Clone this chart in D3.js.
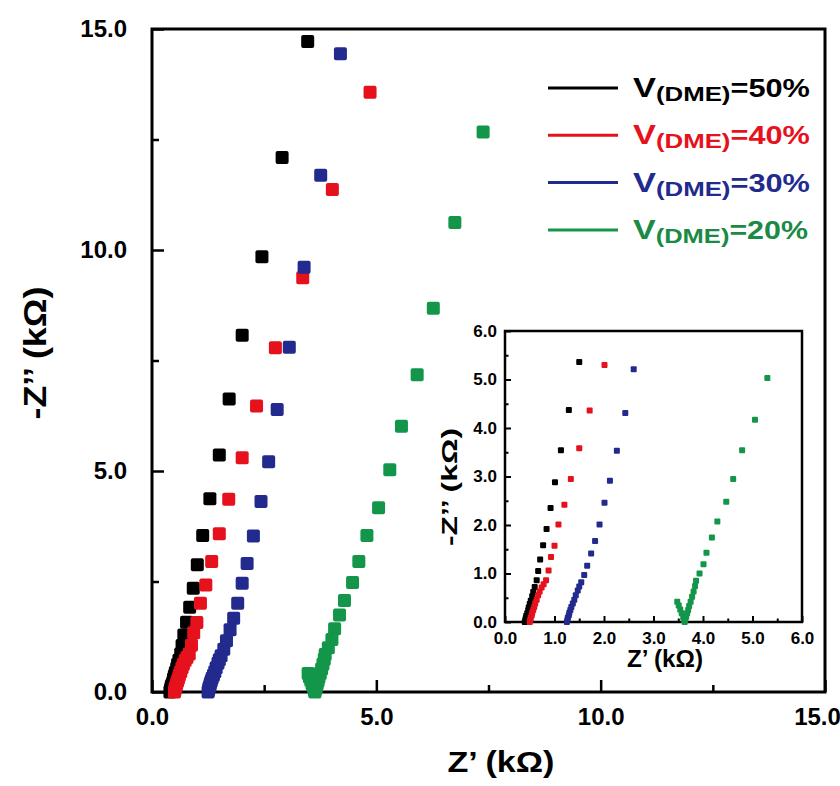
<!DOCTYPE html>
<html><head><meta charset="utf-8">
<script src="https://cdn.jsdelivr.net/npm/d3@7"></script>
<style>
body{margin:0;background:#fff}
text{font-family:"Liberation Sans",Arial,sans-serif;font-weight:bold}
</style>
</head><body>
<svg id="c" width="840" height="786"></svg>
<script>
// ---------------- data (kΩ) ----------------
const seriesPct = ["50%","40%","30%","20%"];
const seriesColors = ["#000000","#e5121d","#232a8e","#14964a"];
const textColors   = ["#000000","#e5121d","#232a8e","#1a8a45"];

const zr50 = [0.40,0.41,0.42,0.43,0.45,0.47,0.48,0.50,0.52,0.55,0.57,0.60,0.64,0.67,0.71,0.77,0.84,0.92,1.01,1.13,1.29,1.50,1.72,2.01,2.45,2.90,3.47];
const zi50 = [0.00,0.04,0.08,0.13,0.18,0.24,0.30,0.37,0.44,0.53,0.62,0.72,0.86,1.05,1.29,1.58,1.92,2.35,2.88,3.54,4.37,5.36,6.63,8.07,9.85,12.09,14.72];

const zr40 = [0.50,0.51,0.52,0.54,0.55,0.57,0.59,0.61,0.64,0.67,0.70,0.74,0.78,0.83,0.88,0.93,1.00,1.08,1.20,1.33,1.50,1.71,2.01,2.33,2.75,3.36,4.02,4.86];
const zi40 = [0.00,0.04,0.09,0.14,0.19,0.25,0.31,0.38,0.46,0.55,0.63,0.71,0.78,0.86,1.06,1.34,1.57,2.01,2.42,2.95,3.58,4.36,5.30,6.47,7.79,9.37,11.37,13.57];

const zr30 = [1.25,1.26,1.27,1.29,1.30,1.32,1.34,1.37,1.40,1.43,1.47,1.50,1.54,1.60,1.66,1.74,1.82,1.91,2.01,2.12,2.26,2.43,2.60,2.79,3.06,3.39,3.76,4.20];
const zi30 = [0.00,0.04,0.09,0.14,0.19,0.25,0.31,0.38,0.46,0.55,0.65,0.73,0.82,0.97,1.16,1.41,1.67,2.01,2.46,2.91,3.53,4.31,5.21,6.39,7.80,9.61,11.69,14.44];

const zr20 = [3.48,3.51,3.54,3.57,3.60,3.62,3.63,3.64,3.66,3.68,3.70,3.72,3.75,3.78,3.81,3.84,3.86,3.93,4.01,4.07,4.18,4.29,4.47,4.61,4.79,5.05,5.30,5.56,5.91,6.27,6.75,7.38];
const zi20 = [0.42,0.34,0.26,0.18,0.10,0.04,0.00,0.05,0.11,0.18,0.25,0.33,0.42,0.52,0.63,0.74,0.85,1.00,1.19,1.43,1.74,2.07,2.48,2.95,3.54,4.17,5.03,6.01,7.18,8.68,10.62,12.67];

const mainTicks = [0,5,10,15];
const mainTickLabels = ["0.0","5.0","10.0","15.0"];
const mainMinor = [2.5,7.5,12.5];
const insetTicks = [0,1,2,3,4,5,6];
const insetTickLabels = ["0.0","1.0","2.0","3.0","4.0","5.0","6.0"];
const insetMinor = [0.5,1.5,2.5,3.5,4.5,5.5];

const allZr = [zr50,zr40,zr30,zr20];
const allZi = [zi50,zi40,zi30,zi20];
const series = allZr.map((xs,k)=>xs.map((v,i)=>({x:v,y:allZi[k][i],k})));

// ---------------- drawing ----------------
const svg = d3.select("#c");

function fitText(g, target){
  const t = g.select("text");
  const w = t.node().getBBox().width;
  t.attr("transform", `scale(${target/w},1)`);
}

// main plot
const x = d3.scaleLinear([0,15],[152,825]);
const y = d3.scaleLinear([0,15],[692,29]);

const ax = svg.append("g").attr("transform",`translate(0,${y(0)})`)
  .call(d3.axisBottom(x).tickValues(mainTicks).tickSize(-12).tickPadding(16)
        .tickFormat((d,i)=>mainTickLabels[i]));
const axm = svg.append("g").attr("transform",`translate(0,${y(0)})`)
  .call(d3.axisBottom(x).tickValues(mainMinor).tickSize(-7).tickFormat(""));
const ay = svg.append("g").attr("transform",`translate(${x(0)},0)`)
  .call(d3.axisLeft(y).tickValues(mainTicks).tickSize(-12).tickPadding(25)
        .tickFormat((d,i)=>mainTickLabels[i]));
const aym = svg.append("g").attr("transform",`translate(${x(0)},0)`)
  .call(d3.axisLeft(y).tickValues(mainMinor).tickSize(-7).tickFormat(""));
[ax,axm,ay,aym].forEach(g=>{
  g.select(".domain").remove();
  g.selectAll("line").attr("stroke","#000").attr("stroke-width",2.5);
  g.selectAll("text").attr("font-size",24).attr("fill","#000")
   .attr("font-family",'"Liberation Sans",Arial,sans-serif').attr("font-weight","bold");
});
// keep the last x label inside the picture, as in the reference
ax.selectAll(".tick text").filter(d=>d===15).attr("dx",-8);

svg.append("rect").attr("x",x(0)).attr("y",y(15)).attr("width",x(15)-x(0)).attr("height",y(0)-y(15))
  .attr("fill","none").attr("stroke","#000").attr("stroke-width",3);

// main markers
const ms = 13;
series.forEach((s,k)=>{
  svg.append("g").selectAll("rect").data(s).join("rect")
    .attr("x",d=>x(d.x)-ms/2).attr("y",d=>y(d.y)-ms/2)
    .attr("width",ms).attr("height",ms).attr("rx",2)
    .attr("fill",seriesColors[k]);
});

// axis titles
const gyt = svg.append("g").attr("transform","translate(46,353) rotate(-90)");
gyt.append("text").attr("text-anchor","middle").attr("font-size",31).text("-Z\u2019\u2019 (k\u03A9)");
fitText(gyt,133);
const gxt = svg.append("g").attr("transform","translate(501,772)");
gxt.append("text").attr("text-anchor","middle").attr("font-size",29).text("Z\u2019 (k\u03A9)");
fitText(gxt,107);

// legend
const legY0 = 88, legStep = 47.3;
seriesPct.forEach((p,i)=>{
  const ly = legY0 + i*legStep;
  svg.append("line").attr("x1",548).attr("x2",618).attr("y1",ly).attr("y2",ly)
    .attr("stroke",seriesColors[i]).attr("stroke-width",3);
  const g = svg.append("g").attr("transform",`translate(633,${ly+9})`);
  const t = g.append("text").attr("fill",textColors[i]);
  t.append("tspan").attr("font-size",28).text("V");
  t.append("tspan").attr("font-size",21).attr("dy",4).text("(DME)");
  t.append("tspan").attr("font-size",25).attr("dy",-4).text("="+p);
  fitText(g, i===3 ? 175 : 177);
});

// inset
const xi = d3.scaleLinear([0,6],[505,802]);
const yi = d3.scaleLinear([0,6],[622,331]);
svg.append("rect").attr("x",xi(0)).attr("y",yi(6)).attr("width",xi(6)-xi(0)).attr("height",yi(0)-yi(6))
  .attr("fill","#fff");
const bx = svg.append("g").attr("transform",`translate(0,${yi(0)})`)
  .call(d3.axisBottom(xi).tickValues(insetTicks).tickSize(-6).tickPadding(10)
        .tickFormat((d,i)=>insetTickLabels[i]));
const bxm = svg.append("g").attr("transform",`translate(0,${yi(0)})`)
  .call(d3.axisBottom(xi).tickValues(insetMinor).tickSize(-3.5).tickFormat(""));
const by = svg.append("g").attr("transform",`translate(${xi(0)},0)`)
  .call(d3.axisLeft(yi).tickValues(insetTicks).tickSize(-6).tickPadding(8)
        .tickFormat((d,i)=>insetTickLabels[i]));
const bym = svg.append("g").attr("transform",`translate(${xi(0)},0)`)
  .call(d3.axisLeft(yi).tickValues(insetMinor).tickSize(-3.5).tickFormat(""));
[bx,bxm,by,bym].forEach(g=>{
  g.select(".domain").remove();
  g.selectAll("line").attr("stroke","#000").attr("stroke-width",2);
  g.selectAll("text").attr("font-size",17).attr("fill","#000")
   .attr("font-family",'"Liberation Sans",Arial,sans-serif').attr("font-weight","bold");
});
svg.append("rect").attr("x",xi(0)).attr("y",yi(6)).attr("width",xi(6)-xi(0)).attr("height",yi(0)-yi(6))
  .attr("fill","none").attr("stroke","#000").attr("stroke-width",2.5);

const msi = 6;
series.forEach((s,k)=>{
  svg.append("g").selectAll("rect").data(s.filter(d=>d.x<=6&&d.y<=6)).join("rect")
    .attr("x",d=>xi(d.x)-msi/2).attr("y",d=>yi(d.y)-msi/2)
    .attr("width",msi).attr("height",msi).attr("rx",1)
    .attr("fill",seriesColors[k]);
});

const iyt = svg.append("g").attr("transform","translate(457,487) rotate(-90)");
iyt.append("text").attr("text-anchor","middle").attr("font-size",23).text("-Z\u2019\u2019 (k\u03A9)");
fitText(iyt,118);
const ixt = svg.append("g").attr("transform","translate(665,667)");
ixt.append("text").attr("text-anchor","middle").attr("font-size",23).text("Z\u2019 (k\u03A9)");
fitText(ixt,76);
</script>
</body></html>
